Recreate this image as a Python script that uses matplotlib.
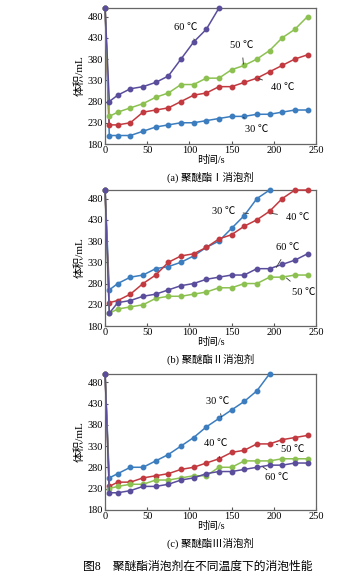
import numpy as np
import matplotlib

matplotlib.use("Agg")
import matplotlib.pyplot as plt

plt.rcParams["font.family"] = ["Liberation Serif", "Noto Sans CJK SC"]

# time axis (s); every curve starts at 500 mL at t = 0
t = [0, 5, 15, 30, 45, 60, 75, 90, 105, 120, 135, 150, 165, 180, 195, 210, 225, 240]

# (a) polyether ester I
a_30 = [500, 200, 200, 200, 210, 220, 225, 230, 230, 235, 240, 245, 245, 250, 250, 255, 260, 260]
a_40 = [500, 225, 225, 230, 255, 260, 265, 280, 295, 300, 315, 315, 325, 335, 350, 365, 380, 390]
a_50 = [500, 245, 255, 265, 275, 290, 300, 320, 320, 335, 335, 355, 365, 380, 400, 430, 450, 480]
a_60 = [500, 280, 295, 310, 315, 325, 340, 380, 420, 450, 500]

# (b) polyether ester II
b_30 = [500, 265, 280, 295, 300, 315, 320, 330, 345, 365, 380, 410, 440, 480, 500]
b_40 = [500, 235, 240, 255, 280, 300, 330, 345, 350, 365, 385, 395, 415, 430, 450, 480, 500, 500]
b_50 = [500, 210, 220, 225, 230, 245, 250, 250, 255, 260, 270, 270, 280, 280, 295, 295, 300, 300]
b_60 = [500, 210, 235, 240, 250, 255, 265, 275, 280, 290, 295, 300, 300, 315, 315, 325, 335, 350]

# (c) polyether ester III
c_30 = [500, 255, 265, 280, 280, 295, 310, 330, 350, 375, 395, 415, 435, 460, 500]
c_40 = [500, 235, 245, 245, 255, 260, 265, 275, 280, 290, 300, 315, 320, 335, 335, 345, 350, 355]
c_50 = [500, 230, 235, 240, 240, 250, 250, 255, 260, 260, 280, 280, 295, 295, 295, 300, 300, 300]
c_60 = [500, 220, 220, 225, 235, 235, 240, 250, 255, 265, 270, 270, 275, 280, 285, 285, 290, 290]

COL = {"30": "#3b7dbf", "40": "#c23a40", "50": "#8cc151", "60": "#5a4e9c"}

panels = [
    ("(a) 聚醚酯Ⅰ消泡剂", [("30", a_30), ("40", a_40), ("50", a_50), ("60", a_60)],
     [("60 ℃", (95, 455), (106, 425)), ("50 ℃", (162, 413), (164, 368)),
      ("40 ℃", (210, 314), (182, 334)), ("30 ℃", (180, 215), (164, 243))]),
    ("(b) 聚醚酯Ⅱ消泡剂", [("30", b_30), ("40", b_40), ("50", b_50), ("60", b_60)],
     [("30 ℃", (140, 450), (170, 445)), ("40 ℃", (228, 435), (198, 445)),
      ("60 ℃", (217, 365), (203, 318)), ("50 ℃", (235, 260), (215, 293))]),
    ("(c) 聚醚酯Ⅲ消泡剂", [("30", c_30), ("40", c_40), ("50", c_50), ("60", c_60)],
     [("30 ℃", (133, 436), (138, 398)), ("40 ℃", (131, 335), (136, 302)),
      ("50 ℃", (222, 322), (203, 334)), ("60 ℃", (204, 257), (187, 281))]),
]

fig = plt.figure(figsize=(3.55, 5.76), dpi=100)
bottoms = [0.750, 0.434, 0.115]
for (title, series, labels), b in zip(panels, bottoms):
    ax = fig.add_axes([0.296, b, 0.594, 0.236])
    for key, ys in series:
        ax.plot(t[:len(ys)], ys, "-o", color=COL[key], lw=1.1, ms=3.2,
                clip_on=False, zorder=3)
    for txt, xy_text, xy in labels:
        ax.annotate(txt, xy=xy, xytext=xy_text, fontsize=7.5, ha="center",
                    va="center", arrowprops=dict(arrowstyle="-", lw=0.6,
                                                 color="#333333", shrinkA=4,
                                                 shrinkB=0))
    ax.set_xlim(0, 250)
    ax.set_ylim(180, 500)
    ax.set_xticks(np.arange(0, 251, 50))
    ax.set_yticks(np.arange(180, 481, 50))
    ax.tick_params(direction="in", labelsize=7.5, length=2.5, pad=1.5,
                   color="#555555")
    for s in ax.spines.values():
        s.set_color("#666666")
        s.set_linewidth(0.9)
    ax.set_ylabel("体积/mL", fontsize=8, labelpad=2)
    ax.set_xlabel("时间/s", fontsize=7.5, labelpad=0)
    ax.text(0.5, -0.245, title, transform=ax.transAxes, ha="center",
            va="center", fontsize=7.5)

fig.text(0.235, 0.016, "图8    聚醚酯消泡剂在不同温度下的消泡性能", ha="left",
         va="center", fontsize=8.5)
fig.savefig("out.png", dpi=100)
